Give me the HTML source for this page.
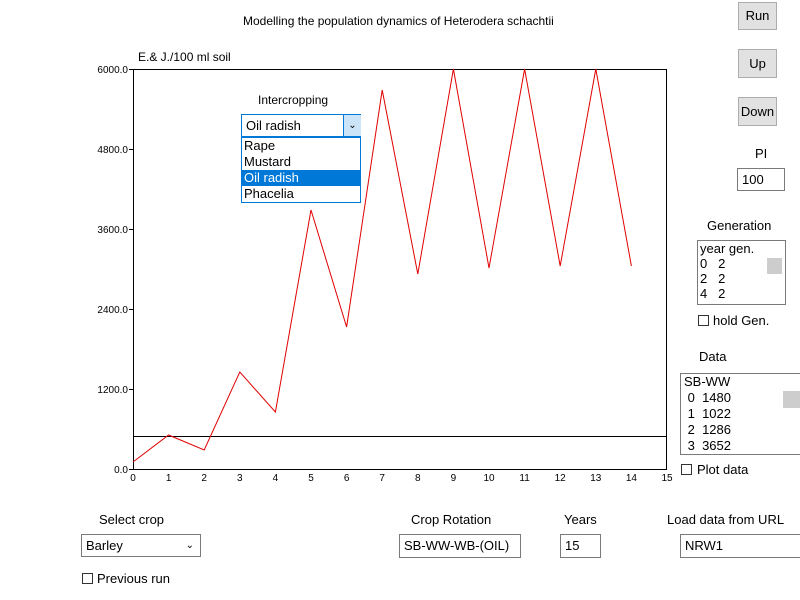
<!DOCTYPE html>
<html><head><meta charset="utf-8"><style>
body{margin:0;width:800px;height:600px;background:#fff;position:relative;overflow:hidden;font-family:"Liberation Sans",Arial,sans-serif;font-size:12px;color:#000}
.a{position:absolute;white-space:nowrap}
.btn{position:absolute;background:#e1e1e1;border:1px solid #adadad;font-size:13px;text-align:center;box-sizing:border-box}
.box{position:absolute;border:1px solid #7a7a7a;background:#fff;box-sizing:border-box;font-size:13px;padding-left:4px}
.cb{position:absolute;width:11px;height:11px;border:1px solid #333;box-sizing:border-box;background:#fff}
</style></head><body>
<div class="a" style="left:243px;top:14px;font-size:12px">Modelling the population dynamics of Heterodera schachtii</div>
<div class="a" style="left:138px;top:50px">E.&amp; J./100 ml soil</div>
<svg class="a" style="left:0;top:0" width="800" height="600">
<rect x="133.5" y="69.5" width="533" height="400" fill="none" stroke="#000"/>
<g font-size="10" font-family="Liberation Sans" text-anchor="end">
<text x="128" y="473">0.0</text><text x="128" y="393">1200.0</text><text x="128" y="313">2400.0</text><text x="128" y="233">3600.0</text><text x="128" y="153">4800.0</text><text x="128" y="73">6000.0</text>
</g>
<g stroke="#000"><line x1="129" y1="469.5" x2="133" y2="469.5"/><line x1="129" y1="389.5" x2="133" y2="389.5"/><line x1="129" y1="309.5" x2="133" y2="309.5"/><line x1="129" y1="229.5" x2="133" y2="229.5"/><line x1="129" y1="149.5" x2="133" y2="149.5"/><line x1="129" y1="69.5" x2="133" y2="69.5"/></g>
<g font-size="10" font-family="Liberation Sans" text-anchor="middle">
<text x="133" y="481">0</text><text x="168.6" y="481">1</text><text x="204.2" y="481">2</text><text x="239.8" y="481">3</text><text x="275.4" y="481">4</text><text x="311" y="481">5</text><text x="346.6" y="481">6</text><text x="382.2" y="481">7</text><text x="417.8" y="481">8</text><text x="453.4" y="481">9</text><text x="489" y="481">10</text><text x="524.6" y="481">11</text><text x="560.2" y="481">12</text><text x="595.8" y="481">13</text><text x="631.4" y="481">14</text><text x="667" y="481">15</text>
</g>
<line x1="133" y1="436.5" x2="667" y2="436.5" stroke="#000"/>
<polyline fill="none" stroke="#e00000" points="133,462 168.6,435 204.2,450 239.8,372 275.4,412 311,210 346.6,327 382.2,90 417.8,274 453.4,69 489,268 524.6,69 560.2,266 595.8,69 631.4,266"/>
</svg>
<div class="a" style="left:258px;top:93px">Intercropping</div>
<div class="box" style="left:241px;top:114px;width:120px;height:23px;border-color:#0078d7;line-height:21px">Oil radish</div>
<div class="a" style="left:343px;top:115px;width:17px;height:21px;background:#cce4f7;border-left:1px solid #0078d7;text-align:center;font-size:10px;line-height:21px">&#8964;</div>
<div class="a" style="left:241px;top:137px;width:120px;height:66px;border:1px solid #0078d7;box-sizing:border-box;background:#fff;font-size:13px;line-height:16px">
<div style="padding-left:2px">Rape</div><div style="padding-left:2px">Mustard</div><div style="padding-left:2px;background:#0078d7;color:#fff">Oil radish</div><div style="padding-left:2px">Phacelia</div></div>
<div class="btn" style="left:738px;top:2px;width:39px;height:28px;line-height:26px">Run</div>
<div class="btn" style="left:738px;top:49px;width:39px;height:29px;line-height:27px">Up</div>
<div class="btn" style="left:738px;top:97px;width:39px;height:29px;line-height:27px">Down</div>
<div class="a" style="left:755px;top:146px;font-size:13px">PI</div>
<div class="box" style="left:737px;top:168px;width:48px;height:23px;line-height:21px">100</div>
<div class="a" style="left:707px;top:218px;font-size:13px">Generation</div>
<div class="box" style="left:697px;top:240px;width:89px;height:65px;padding-left:2px;font-size:13px;line-height:15px">year gen.<br>0&nbsp;&nbsp; 2<br>2&nbsp;&nbsp; 2<br>4&nbsp;&nbsp; 2</div>
<div class="a" style="left:767px;top:258px;width:15px;height:16px;background:#cdcdcd"></div>
<div class="cb" style="left:698px;top:315px"></div><div class="a" style="left:713px;top:313px;font-size:13px">hold Gen.</div>
<div class="a" style="left:699px;top:349px;font-size:13px">Data</div>
<div class="box" style="left:680px;top:373px;width:125px;height:82px;padding-left:3px;font-size:13px;line-height:16px">SB-WW<br>&nbsp;0&nbsp; 1480<br>&nbsp;1&nbsp; 1022<br>&nbsp;2&nbsp; 1286<br>&nbsp;3&nbsp; 3652</div>
<div class="a" style="left:783px;top:391px;width:17px;height:17px;background:#cdcdcd"></div>
<div class="cb" style="left:681px;top:464px"></div><div class="a" style="left:697px;top:462px;font-size:13px">Plot data</div>
<div class="a" style="left:99px;top:512px;font-size:13px">Select crop</div>
<div class="box" style="left:81px;top:534px;width:120px;height:23px;line-height:21px">Barley<span style="position:absolute;right:6px;font-size:10px">&#8964;</span></div>
<div class="cb" style="left:82px;top:573px"></div><div class="a" style="left:97px;top:571px;font-size:13px">Previous run</div>
<div class="a" style="left:411px;top:512px;font-size:13px">Crop Rotation</div>
<div class="box" style="left:399px;top:534px;width:122px;height:24px;line-height:22px">SB-WW-WB-(OIL)</div>
<div class="a" style="left:564px;top:512px;font-size:13px">Years</div>
<div class="box" style="left:560px;top:534px;width:41px;height:24px;line-height:22px">15</div>
<div class="a" style="left:667px;top:512px;font-size:13px">Load data from URL</div>
<div class="box" style="left:680px;top:534px;width:130px;height:24px;line-height:22px">NRW1</div>
</body></html>
